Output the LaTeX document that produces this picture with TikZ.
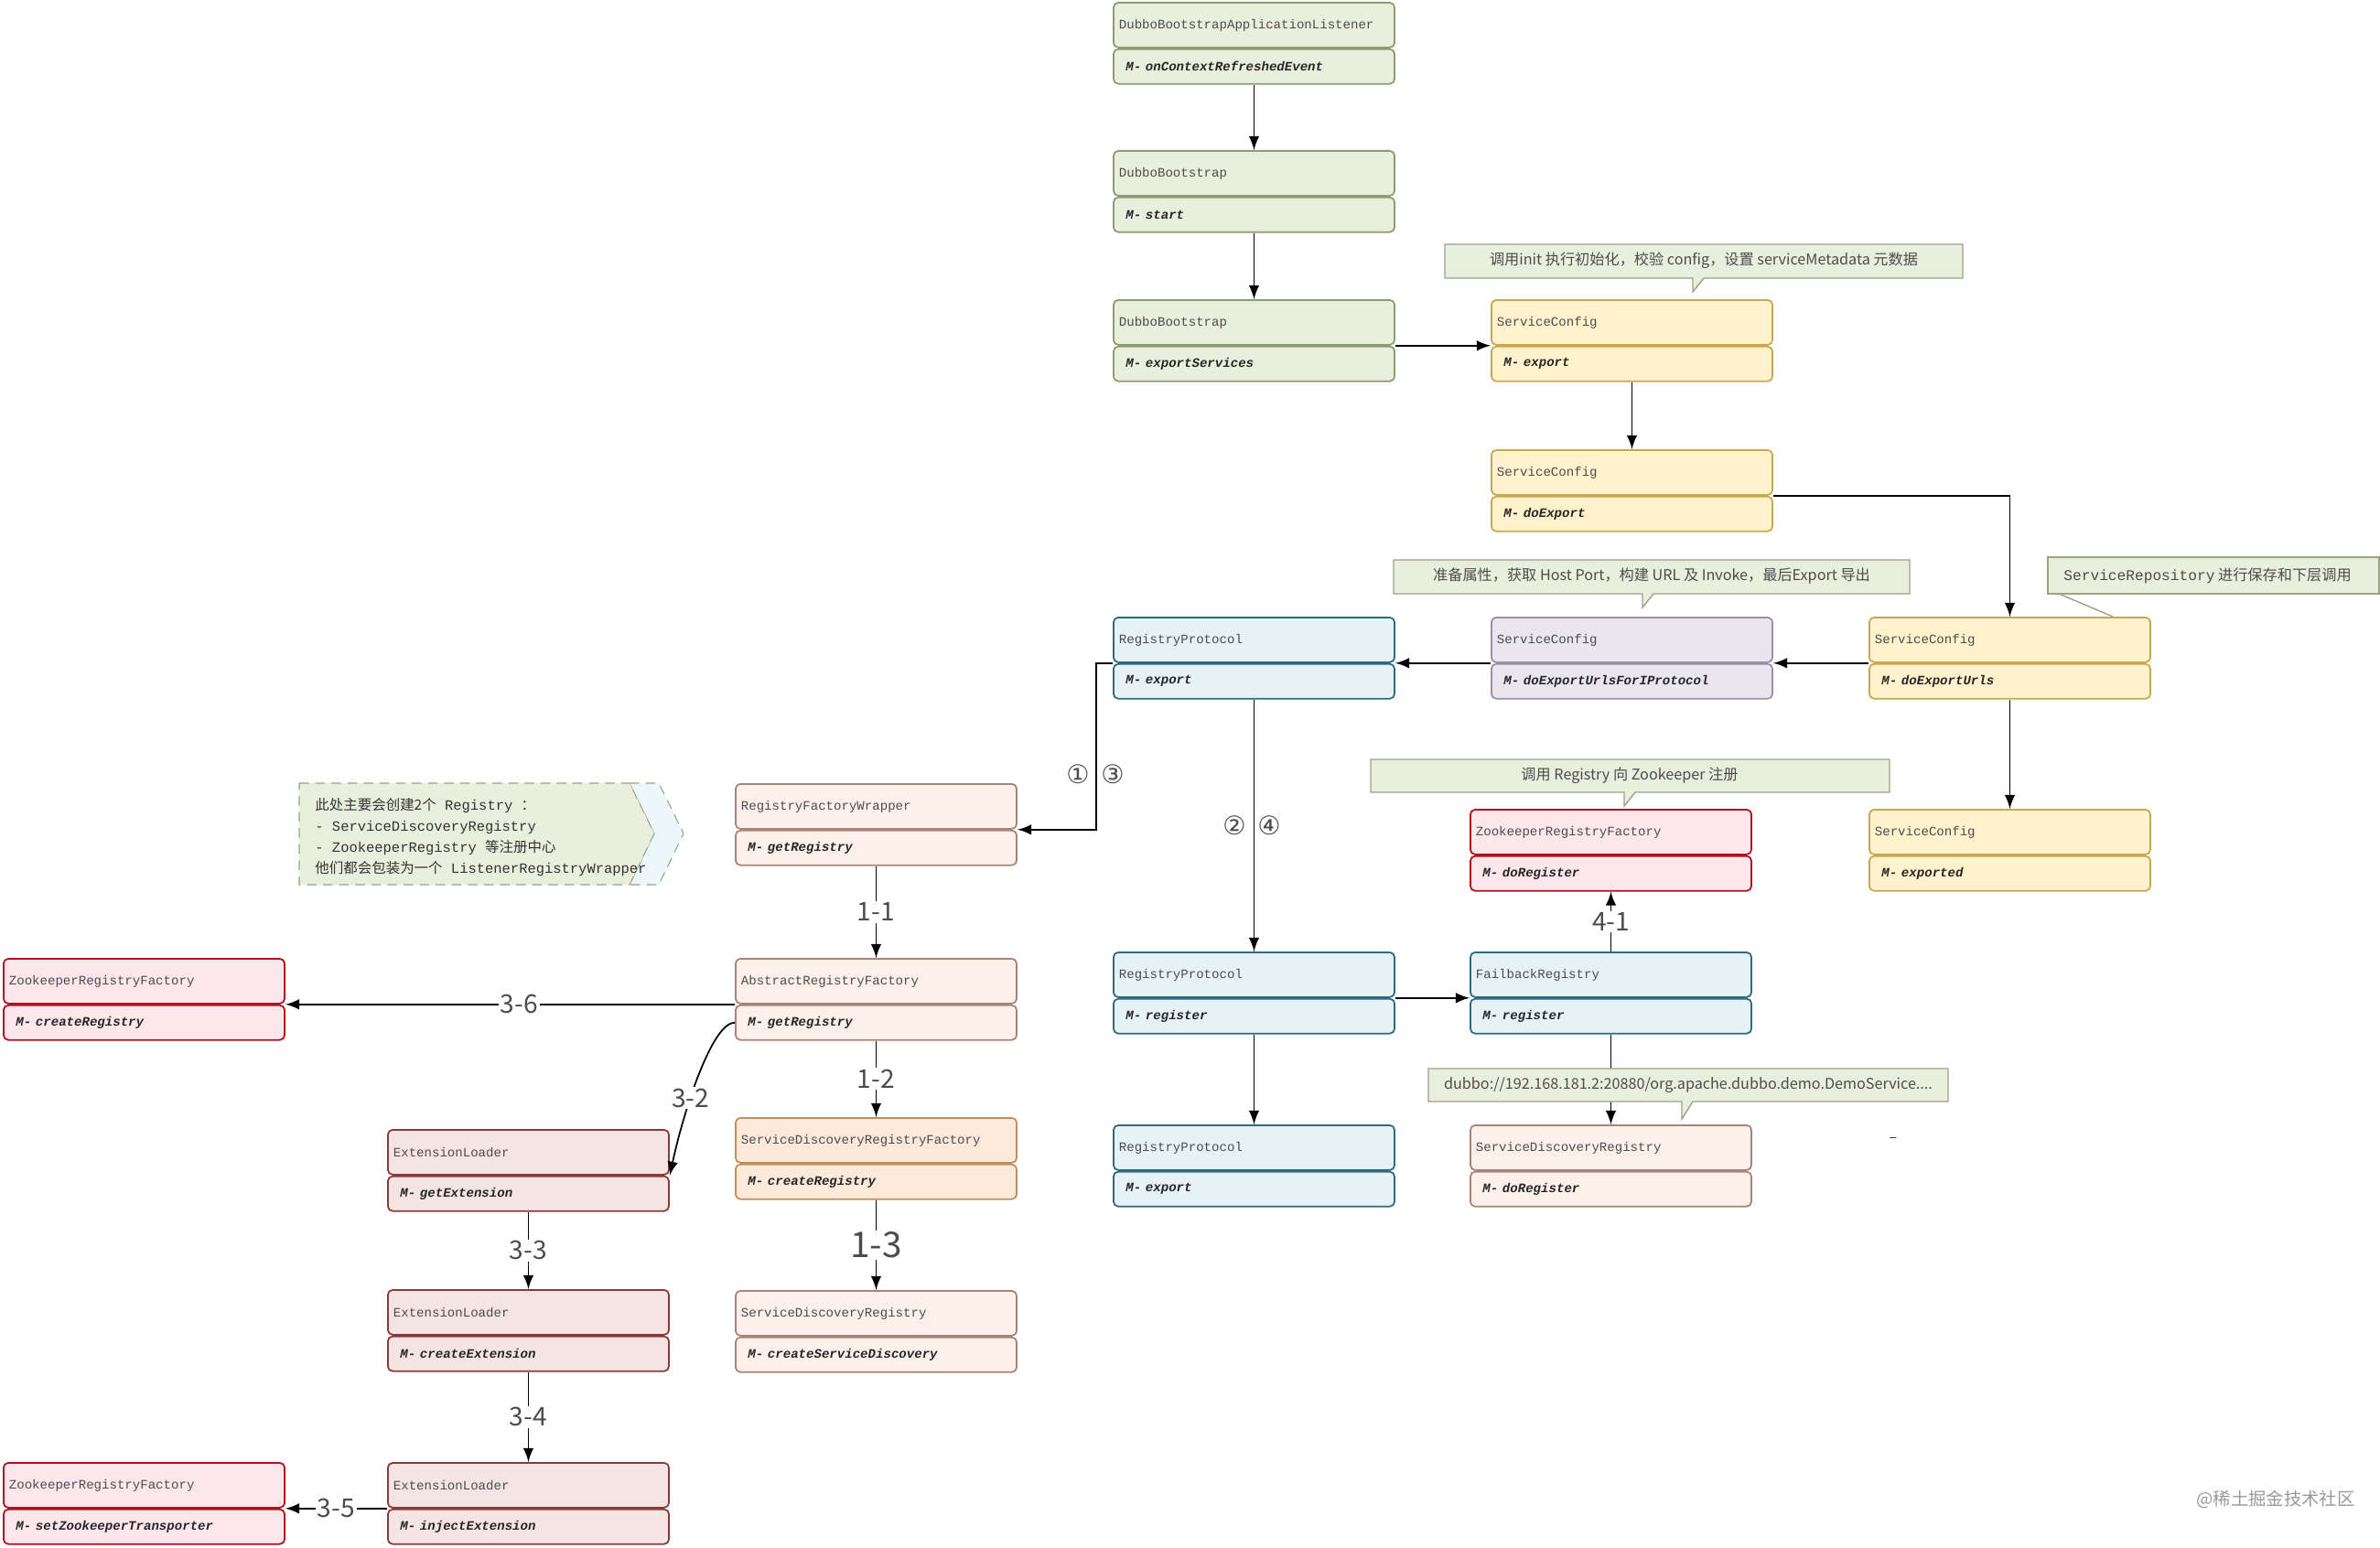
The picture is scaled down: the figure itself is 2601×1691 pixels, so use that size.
\documentclass[tikz,border=0pt]{standalone}
\usepackage{fontspec}
\setmainfont{Noto Sans CJK SC}
\setmonofont{Liberation Mono}
\newfontfamily\cjk{Noto Sans CJK SC}
\newfontfamily\sym{DejaVu Sans}
\usetikzlibrary{shapes,arrows,positioning,calc}
\usepackage{xcolor}
\definecolor{grnF}{HTML}{EAEFDD}\definecolor{grnD}{HTML}{8F9B70}
\definecolor{ylwF}{HTML}{FFF2CC}\definecolor{ylwD}{HTML}{C9A94E}
\definecolor{purF}{HTML}{E9E6F0}\definecolor{purD}{HTML}{9A90A8}
\definecolor{bluF}{HTML}{E6F2F5}\definecolor{bluD}{HTML}{2E6B80}
\definecolor{redF}{HTML}{FDE6EC}\definecolor{redD}{HTML}{B3101E}
\definecolor{pchF}{HTML}{FDF0EA}\definecolor{pchD}{HTML}{A88478}
\definecolor{orgF}{HTML}{FDE9DA}\definecolor{orgD}{HTML}{C0905C}
\definecolor{brnF}{HTML}{F5E4E4}\definecolor{brnD}{HTML}{8A3A3A}
\definecolor{noteF}{HTML}{EAEFDD}\definecolor{noteD}{HTML}{9AA384}
\tikzset{
  head/.style={draw,rounded corners=1.5pt,anchor=north west,minimum width=3.07cm,minimum height=0.49cm,
    text width=2.95cm,align=left,inner sep=0.6mm,font=\ttfamily\fontsize{4}{5}\selectfont,text=black!70,line width=0.5pt},
  meth/.style={draw,rounded corners=1.5pt,below=0pt of #1,minimum width=3.07cm,minimum height=0.38cm,
    text width=2.8cm,align=left,inner sep=0.6mm,font=\ttfamily\bfseries\itshape\fontsize{4}{5}\selectfont,text=black!85,line width=0.5pt},
  grn/.style={fill=grnF,draw=grnD}, ylw/.style={fill=ylwF,draw=ylwD},
  pur/.style={fill=purF,draw=purD}, blu/.style={fill=bluF,draw=bluD},
  red/.style={fill=redF,draw=redD}, pch/.style={fill=pchF,draw=pchD},
  org/.style={fill=orgF,draw=orgD}, brn/.style={fill=brnF,draw=brnD},
  note/.style={fill=noteF,draw=noteD,line width=0.4pt},
  notetext/.style={font=\fontsize{4.6}{5.6}\selectfont,text=black!70},
  lbl/.style={fill=white,inner sep=0.5pt,font=\fontsize{8}{9}\selectfont,text=black!70},
  circ/.style={inner sep=0pt,font=\sym\fontsize{8}{9}\selectfont,text=black!70},
  flow/.style={->,>=latex,line width=0.5pt},
}
\begin{document}
\begin{tikzpicture}[x=0.01cm,y=-0.01cm]
    \useasboundingbox (0,0) rectangle (2601,1691);
    % bootstrap chain
    \node[head,grn] (listener) at (1216,2) {DubboBootstrapApplicationListener};
    \node[meth=listener,grn] (listener-m) {M- onContextRefreshedEvent};
    \node[head,grn] (start) at (1216,164) {DubboBootstrap};
    \node[meth=start,grn] (start-m) {M- start};
    \node[head,grn] (expsvc) at (1216,327) {DubboBootstrap};
    \node[meth=expsvc,grn] (expsvc-m) {M- exportServices};
    % service config
    \node[head,ylw] (export) at (1629,327) {ServiceConfig};
    \node[meth=export,ylw] (export-m) {M- export};
    \node[head,ylw] (doexport) at (1629,491) {ServiceConfig};
    \node[meth=doexport,ylw] (doexport-m) {M- doExport};
    \node[head,ylw] (urls) at (2042,674) {ServiceConfig};
    \node[meth=urls,ylw] (urls-m) {M- doExportUrls};
    \node[head,ylw] (exported) at (2042,884) {ServiceConfig};
    \node[meth=exported,ylw] (exported-m) {M- exported};
    \node[head,pur] (proto) at (1629,674) {ServiceConfig};
    \node[meth=proto,pur] (proto-m) {M- doExportUrlsForIProtocol};
    % registry protocol
    \node[head,blu] (rpexport) at (1216,674) {RegistryProtocol};
    \node[meth=rpexport,blu] (rpexport-m) {M- export};
    \node[head,blu] (rpreg) at (1216,1040) {RegistryProtocol};
    \node[meth=rpreg,blu] (rpreg-m) {M- register};
    \node[head,blu] (rpexport2) at (1216,1229) {RegistryProtocol};
    \node[meth=rpexport2,blu] (rpexport2-m) {M- export};
    \node[head,blu] (failback) at (1606,1040) {FailbackRegistry};
    \node[meth=failback,blu] (failback-m) {M- register};
    \node[head,red] (zkdoreg) at (1606,884) {ZookeeperRegistryFactory};
    \node[meth=zkdoreg,red] (zkdoreg-m) {M- doRegister};
    \node[head,pch] (sddoreg) at (1606,1229) {ServiceDiscoveryRegistry};
    \node[meth=sddoreg,pch] (sddoreg-m) {M- doRegister};
    % registry factory
    \node[head,pch] (wrapper) at (803,856) {RegistryFactoryWrapper};
    \node[meth=wrapper,pch] (wrapper-m) {M- getRegistry};
    \node[head,pch] (abstract) at (803,1047) {AbstractRegistryFactory};
    \node[meth=abstract,pch] (abstract-m) {M- getRegistry};
    \node[head,org] (sdfactory) at (803,1221) {ServiceDiscoveryRegistryFactory};
    \node[meth=sdfactory,org] (sdfactory-m) {M- createRegistry};
    \node[head,pch] (sdreg) at (803,1410) {ServiceDiscoveryRegistry};
    \node[meth=sdreg,pch] (sdreg-m) {M- createServiceDiscovery};
    \node[head,red] (zkcreate) at (3,1047) {ZookeeperRegistryFactory};
    \node[meth=zkcreate,red] (zkcreate-m) {M- createRegistry};
    \node[head,red] (zktrans) at (3,1598) {ZookeeperRegistryFactory};
    \node[meth=zktrans,red] (zktrans-m) {M- setZookeeperTransporter};
    % extension loader
    \node[head,brn] (getext) at (423,1234) {ExtensionLoader};
    \node[meth=getext,brn] (getext-m) {M- getExtension};
    \node[head,brn] (createext) at (423,1409) {ExtensionLoader};
    \node[meth=createext,brn] (createext-m) {M- createExtension};
    \node[head,brn] (injectext) at (423,1598) {ExtensionLoader};
    \node[meth=injectext,brn] (injectext-m) {M- injectExtension};

    % callouts
    \draw[note] (1579,267) -- (2145,267) -- (2145,304) -- (1862,304) -- (1850,319) -- (1850,304) -- (1579,304) -- cycle;
    \node[notetext] (initnote) at (1862,285) {调用init 执行初始化，校验 config，设置 serviceMetadata 元数据};
    \draw[note] (1523,612) -- (2087,612) -- (2087,649) -- (1807,649) -- (1795,664) -- (1795,649) -- (1523,649) -- cycle;
    \node[notetext] (prepnote) at (1805,630) {准备属性，获取 Host Port，构建 URL 及 Invoke，最后Export 导出};
    \draw[note] (2238,609) -- (2600,609) -- (2600,649) -- (2238,649) -- cycle;
    \draw[noteD,line width=0.4pt] (2250,649) -- (2309,674);
    \node[notetext,anchor=west] (reponote) at (2243,629) {{\ttfamily ServiceRepository} 进行保存和下层调用};
    \draw[note] (1498,830) -- (2065,830) -- (2065,866) -- (1787,866) -- (1775,881) -- (1775,866) -- (1498,866) -- cycle;
    \node[notetext] (zknote) at (1781,848) {调用 Registry 向 Zookeeper 注册};
    % chevron note
    \draw[fill=bluF!70!white,draw=noteD,densely dashed,line width=0.3pt] (688,856) -- (720,856) -- (747,911) -- (720,967) -- (688,967) -- (715,911) -- cycle;
    \draw[fill=noteF,draw=noteD,densely dashed,line width=0.3pt] (327,856) -- (688,856) -- (715,911) -- (688,967) -- (327,967) -- cycle;
    \node[notetext,anchor=west,align=left,font=\ttfamily\fontsize{4.4}{6.6}\selectfont,text=black!80] (wrapnote) at (332,915)
        {{\cjk 此处主要会创建2个} Registry {\cjk ：}\\- ServiceDiscoveryRegistry\\- ZookeeperRegistry {\cjk 等注册中心}\\{\cjk 他们都会包装为一个} ListenerRegistryWrapper};

    % arrows
    \draw[flow] (listener-m) -- (start);
    \draw[flow] (start-m) -- (expsvc);
    \draw[flow] (expsvc.south east) -- (export.south west);
    \draw[flow] (export-m) -- (doexport);
    \draw[flow] (doexport.south east) -| (urls);
    \draw[flow] (urls.south west) -- (proto.south east);
    \draw[flow] (proto.south west) -- (rpexport.south east);
    \draw[flow] (urls-m) -- (exported);
    \draw[flow] (rpexport.south west) -- ++(-18,0) |- (wrapper.south east);
    \node[circ] (c1) at (1178,846) {①};
    \node[circ] (c3) at (1216,846) {③};
    \draw[flow] (rpexport-m) -- (rpreg);
    \node[circ] (c2) at (1349,902) {②};
    \node[circ] (c4) at (1387,902) {④};
    \draw[flow] (rpreg-m) -- (rpexport2);
    \draw[flow] (rpreg.south east) -- (failback.south west);
    \draw[flow] (failback) -- node[lbl] {4-1} (zkdoreg-m);
    \draw[flow] (failback-m) -- (sddoreg);
    \draw[note] (1561,1168) -- (2129,1168) -- (2129,1204) -- (1850,1204) -- (1838,1223) -- (1838,1204) -- (1561,1204) -- cycle;
    \node[notetext] (urlnote) at (1845,1186) {dubbo://192.168.181.2:20880/org.apache.dubbo.demo.DemoService....};
    \draw[flow] (wrapper-m) -- node[lbl] {1-1} (abstract);
    \draw[flow] (abstract-m) -- node[lbl] {1-2} (sdfactory);
    \draw[flow] (sdfactory-m) -- node[lbl,font=\fontsize{11}{12}\selectfont] {1-3} (sdreg);
    \draw[flow] (abstract.south west) -- node[lbl,pos=0.48] {3-6} (zkcreate.south east);
    \draw[flow] (abstract-m.west) .. controls +(-25,0) and +(15,-70) .. node[lbl,pos=0.62] {3-2} (getext.south east);
    \draw[flow] (getext-m) -- node[lbl] {3-3} (createext);
    \draw[flow] (createext-m) -- node[lbl] {3-4} (injectext);
    \draw[flow] (injectext.south west) -- node[lbl] {3-5} (zktrans.south east);

    % misc
    \node[notetext,text=black!80] (dash) at (2069,1246) {–};
    \node[notetext,anchor=west,text=black!40,font=\fontsize{5.5}{6}\selectfont] (mark) at (2388,1639) {@稀土掘金技术社区};
\end{tikzpicture}
\end{document}
